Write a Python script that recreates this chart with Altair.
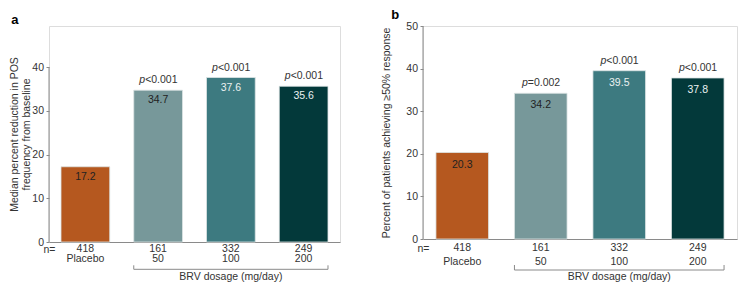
import altair as alt
import pandas as pd

groups = ["Placebo", "50", "100", "200"]
n_values = [418, 161, 332, 249]
reduction = [17.2, 34.7, 37.6, 35.6]
responders = [20.3, 34.2, 39.5, 37.8]
p_reduction = ["", "<0.001", "<0.001", "<0.001"]
p_responders = ["", "=0.002", "<0.001", "<0.001"]
bar_colors = ["#B5581F", "#77989A", "#3D7A80", "#03393A"]
label_colors = ["#222222", "#222222", "#EAF1F1", "#EAF1F1"]
dose_title = "BRV dosage (mg/day)"

FONT = "Liberation Sans"
FS = 10.5
AXIS_COLOR = "#8a8a8a"
TEXT_COLOR = "#333333"


def panel(letter, values, pvals, ytitle, ymax_axis, ydom, width, height,
          rows, tick_len, text_dy, title_dx, title_pad):
    df = pd.DataFrame({
        "group": groups,
        "n": [str(v) for v in n_values],
        "value": values,
        "label": [f"{v:.1f}" for v in values],
        "p": ["p" if s else "" for s in pvals],
        "prest": pvals,
        "color": bar_colors,
        "tcolor": label_colors,
    })
    xscale = alt.Scale(domain=groups, paddingInner=0.33, paddingOuter=0.165)
    x = alt.X("group:N", scale=xscale,
              axis=alt.Axis(labels=False, ticks=False, title=None,
                            domainColor=AXIS_COLOR, domainWidth=1))
    yscale = alt.Scale(domain=[0, ydom], nice=False)
    y = alt.Y("value:Q", scale=yscale,
              axis=alt.Axis(values=list(range(0, ymax_axis + 1, 10)), domain=False,
                            grid=False, tickSize=3, tickColor=AXIS_COLOR,
                            labelColor=TEXT_COLOR, labelFont=FONT, labelFontSize=FS,
                            labelPadding=2.5, title=ytitle, titleFont=FONT,
                            titleFontSize=FS, titleFontWeight="normal",
                            titleColor=TEXT_COLOR, titlePadding=title_pad,
                            titleLineHeight=12.5))
    base = alt.Chart(df).encode(x=x)
    bars = base.mark_bar(stroke="#dde5e5", strokeWidth=0.8).encode(
        y=y, color=alt.Color("color:N", scale=None))
    vals = base.mark_text(baseline="middle", dy=text_dy, font=FONT, fontSize=FS).encode(
        y=alt.Y("value:Q", scale=yscale), text="label:N",
        color=alt.Color("tcolor:N", scale=None))
    p_it = base.mark_text(baseline="middle", align="right", dx=-13, dy=-10, font=FONT,
                          fontSize=FS, fontStyle="italic", color=TEXT_COLOR).encode(
        y=alt.Y("value:Q", scale=yscale), text="p:N")
    p_rest = base.mark_text(baseline="middle", align="left", dx=-13, dy=-10, font=FONT,
                            fontSize=FS, color=TEXT_COLOR).encode(
        y=alt.Y("value:Q", scale=yscale), text="prest:N")

    axis_df = pd.DataFrame({"y0": [0], "y1": [ymax_axis]})
    yaxis_line = alt.Chart(axis_df).mark_rule(color=AXIS_COLOR, strokeWidth=1).encode(
        x=alt.value(0), y=alt.Y("y0:Q", scale=yscale), y2="y1:Q")

    row1 = base.mark_text(baseline="middle", font=FONT, fontSize=FS, color=TEXT_COLOR).encode(
        y=alt.value(height + rows[0]), text="n:N")
    row2 = base.mark_text(baseline="middle", font=FONT, fontSize=FS, color=TEXT_COLOR).encode(
        y=alt.value(height + rows[1]), text="group:N")
    n_df = pd.DataFrame({"t": ["n="]})
    n_lab = alt.Chart(n_df).mark_text(baseline="middle", font=FONT, fontSize=FS,
                                      color=TEXT_COLOR).encode(
        x=alt.value(0.5), y=alt.value(height + rows[0] + 1), text="t:N")

    br_df = pd.DataFrame({"s": ["50"], "e": ["200"]})
    br_h = alt.Chart(br_df).mark_rule(color=AXIS_COLOR, strokeWidth=1).encode(
        x=alt.X("s:N", scale=xscale, bandPosition=0),
        x2=alt.X2("e:N", bandPosition=1),
        y=alt.value(height + rows[2]))
    br_l = alt.Chart(br_df).mark_rule(color=AXIS_COLOR, strokeWidth=1).encode(
        x=alt.X("s:N", scale=xscale, bandPosition=0),
        y=alt.value(height + rows[2] - tick_len), y2=alt.value(height + rows[2]))
    br_r = alt.Chart(br_df).mark_rule(color=AXIS_COLOR, strokeWidth=1).encode(
        x=alt.X("e:N", scale=xscale, bandPosition=1),
        y=alt.value(height + rows[2] - tick_len), y2=alt.value(height + rows[2]))
    dose_df = pd.DataFrame({"g": ["100"], "t": [dose_title]})
    dose = alt.Chart(dose_df).mark_text(baseline="middle", font=FONT, fontSize=FS,
                                        color=TEXT_COLOR).encode(
        x=alt.X("g:N", scale=xscale), y=alt.value(height + rows[3]), text="t:N")

    return alt.layer(bars, yaxis_line, vals, p_it, p_rest, row1, row2, n_lab,
                     br_h, br_l, br_r, dose).properties(
        width=width, height=height,
        title=alt.TitleParams(letter, anchor="start", frame="bounds", fontSize=13,
                              fontWeight="bold", font=FONT, dx=title_dx, offset=-1,
                              color="black"))


a = panel("a", reduction, p_reduction,
          ["Median percent reduction in POS", "frequency from baseline"],
          40, 216 / 4.375, 291, 216, [6.8, 17.3, 27.3, 35.3], 4, 10, 2, 0)
b = panel("b", responders, p_responders,
          "Percent of patients achieving \u226550% response",
          50, 50, 314, 213, [9.3, 23, 31, 38.3], 5, 12, 10, 14.5)

chart = alt.hconcat(a, b, spacing=39).properties(padding=0).configure_view(
    stroke=None).configure(font=FONT)

chart.save("out.html", embed_options={"renderer": "svg", "actions": False})
